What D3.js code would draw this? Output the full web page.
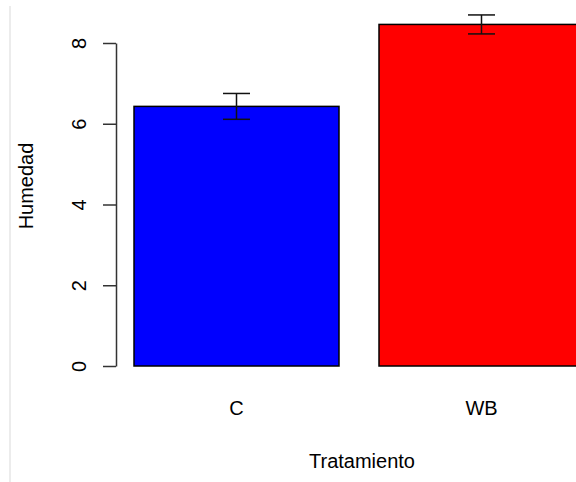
<!DOCTYPE html>
<html>
<head>
<meta charset="utf-8">
<script src="https://cdn.jsdelivr.net/npm/d3@7"></script>
<style>
  body { margin: 0; background: #fff; }
  svg text { font-family: "Liberation Sans", Arial, sans-serif; fill: #000; }
</style>
</head>
<body>
<svg id="chart" width="576" height="482"></svg>
<script>
// Data
const categories = ["C", "WB"];
const means = [6.43, 8.46];
const errors = [0.32, 0.235];
const barColors = ["#0000ff", "#ff0000"];
const yTicks = [0, 2, 4, 6, 8];

const svg = d3.select("#chart");

// faint frame line on the left
svg.append("line")
    .attr("x1", 10).attr("x2", 10)
    .attr("y1", 6).attr("y2", 482)
    .attr("stroke", "#ececec")
    .attr("stroke-width", 2);

const x = d3.scaleBand()
    .domain(categories)
    .range([94, 624])
    .paddingInner(0.1633)
    .paddingOuter(0.1633);

const y = d3.scaleLinear()
    .domain([0, 8])
    .range([366, 43]);

const data = categories.map((c, i) => ({ cat: c, mean: means[i], err: errors[i], color: barColors[i] }));

// Bars
svg.selectAll(".bar")
    .data(data)
    .enter()
    .append("rect")
    .attr("class", "bar")
    .attr("x", d => x(d.cat))
    .attr("y", d => y(d.mean))
    .attr("width", x.bandwidth())
    .attr("height", d => y(0) - y(d.mean))
    .attr("fill", d => d.color)
    .attr("stroke", "#000")
    .attr("stroke-width", 1.5);

// Error bars
const capHalf = 13.5;
const eb = svg.selectAll(".err")
    .data(data)
    .enter()
    .append("g")
    .attr("class", "err")
    .attr("stroke", "#111")
    .attr("stroke-width", 1.5);

eb.append("line")
    .attr("x1", d => x(d.cat) + x.bandwidth() / 2)
    .attr("x2", d => x(d.cat) + x.bandwidth() / 2)
    .attr("y1", d => y(d.mean + d.err))
    .attr("y2", d => y(d.mean - d.err));
eb.append("line")
    .attr("x1", d => x(d.cat) + x.bandwidth() / 2 - capHalf)
    .attr("x2", d => x(d.cat) + x.bandwidth() / 2 + capHalf)
    .attr("y1", d => y(d.mean + d.err))
    .attr("y2", d => y(d.mean + d.err));
eb.append("line")
    .attr("x1", d => x(d.cat) + x.bandwidth() / 2 - capHalf)
    .attr("x2", d => x(d.cat) + x.bandwidth() / 2 + capHalf)
    .attr("y1", d => y(d.mean - d.err))
    .attr("y2", d => y(d.mean - d.err));

// Y axis (R style, rotated labels)
const yAxis = svg.append("g")
    .attr("transform", "translate(116,0)")
    .call(d3.axisLeft(y).tickValues(yTicks).tickSize(13).tickSizeOuter(0));

yAxis.select(".domain").attr("stroke", "#333").attr("stroke-width", 1.5);
yAxis.selectAll(".tick line").attr("stroke", "#333").attr("stroke-width", 1.5);
yAxis.selectAll(".tick text")
    .attr("x", null).attr("dy", null)
    .attr("text-anchor", "middle")
    .attr("transform", "translate(-30,0) rotate(-90)")
    .style("font-size", "20px")
    .style("font-family", "Liberation Sans, Arial, sans-serif")
    .attr("fill", "#000");

// Category labels
svg.selectAll(".cat-label")
    .data(categories)
    .enter()
    .append("text")
    .attr("class", "cat-label")
    .attr("x", d => x(d) + x.bandwidth() / 2)
    .attr("y", 415)
    .attr("text-anchor", "middle")
    .style("font-size", "20px")
    .text(d => d);

// Axis titles
svg.append("text")
    .attr("x", 362)
    .attr("y", 468)
    .attr("text-anchor", "middle")
    .style("font-size", "20px")
    .text("Tratamiento");

svg.append("text")
    .attr("transform", "translate(33,186) rotate(-90)")
    .attr("text-anchor", "middle")
    .style("font-size", "20px")
    .text("Humedad");
</script>
</body>
</html>
